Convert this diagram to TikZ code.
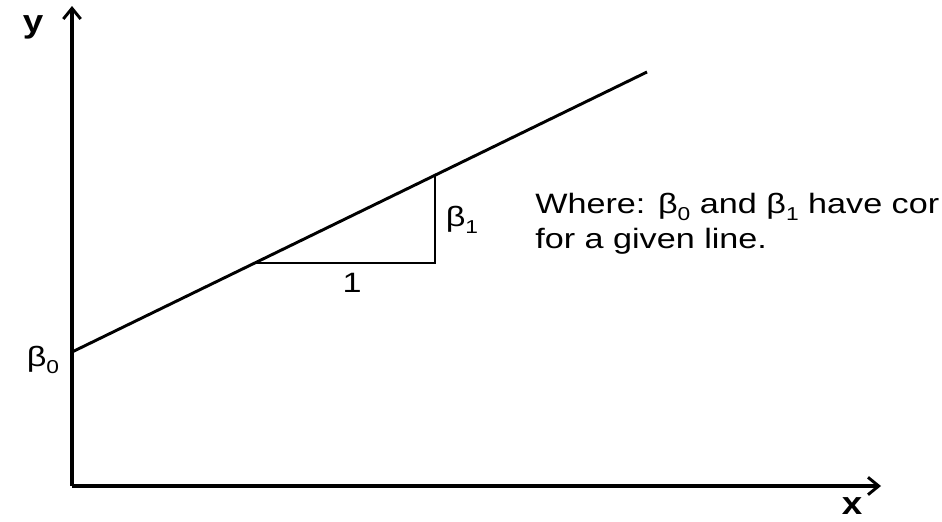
\documentclass[tikz,border=0pt]{standalone}
\usepackage{fontspec}
\setmainfont{Liberation Sans}
\usetikzlibrary{arrows.meta}

\newcommand{\bsub}[1]{β\raisebox{-0.5ex}{\fontsize{14}{14}\selectfont #1}}

\begin{document}
\begin{tikzpicture}[
    x=0.75pt, y=-0.75pt,
    axis/.style={line width=2.4pt, -{Straight Barb[length=8pt, width=13pt, line width=2.2pt]}},
    fitline/.style={line width=2.2pt},
    lbl/.style={font=\fontsize{21}{26}\selectfont, inner sep=0pt, xscale=1.22},
    axlbl/.style={font=\fontsize{24}{24}\selectfont\bfseries, inner sep=0pt, xscale=1.15},
  ]
  \clip (0,0) rectangle (942,521);
  \useasboundingbox (0,0) rectangle (942,521);

  \coordinate (O) at (72,486);
  \coordinate (ytip) at (72,6);
  \coordinate (xtip) at (881,486);
  \coordinate (b0) at (72,352);
  \coordinate (lend) at (647,72);
  \coordinate (t1) at (255,263);
  \coordinate (t2) at (435,263);
  \coordinate (t3) at (435,176);

  % axes
  \draw[axis] (O) -- (ytip);
  \draw[axis] (O) -- (xtip);
  \node[axlbl] (ylab) at (33,27) {y};
  \node[axlbl] (xlab) at (852,506) {x};

  % line and slope triangle
  \draw[fitline] (b0) -- (lend);
  \draw[fitline] (t1) -- (t2) -- (t3);

  \node[lbl] (b0lab) at (43,360) {\bsub{0}};
  \node[lbl] (b1lab) at (462,220) {\bsub{1}};
  \node[lbl] (one) at (352,283) {1};

  \node[lbl, anchor=north west, align=left] (note) at (535,193)
    {Where: \bsub{0} and \bsub{1} have cor\\for a given line.};
\end{tikzpicture}
\end{document}
